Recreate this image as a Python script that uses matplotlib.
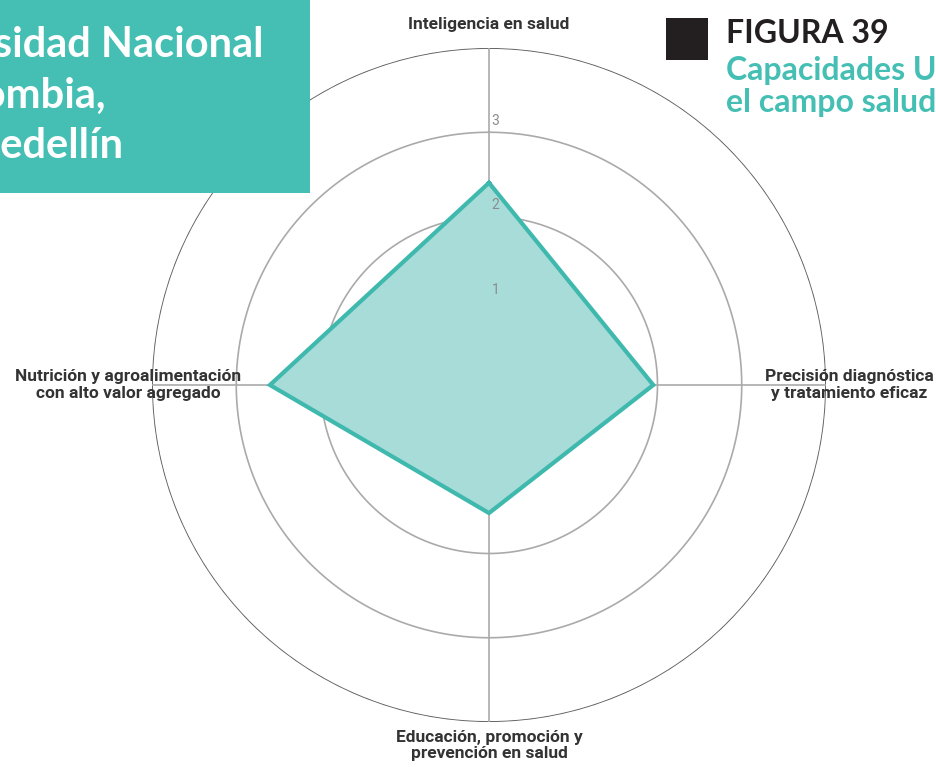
import numpy as np
import matplotlib
matplotlib.use("Agg")
import matplotlib.pyplot as plt
from matplotlib.patches import Rectangle

categorias = ["Inteligencia en salud",
              "Precisión diagnóstica\ny tratamiento eficaz",
              "Educación, promoción y\nprevención en salud",
              "Nutrición y agroalimentación\ncon alto valor agregado"]
valores = [2.4, 1.95, 1.52, 2.6]
anillos = [1, 2, 3, 4]
etiquetas_anillo = ["1", "2", "3"]

teal = "#45bfb4"
relleno = "#a8dcd9"
borde = "#3fb9ad"

W, H = 937, 767
fig = plt.figure(figsize=(W / 100, H / 100), dpi=100)
fig.patch.set_facecolor("white")

# centro (489,385) px, radio exterior 337 px
cx, cy, R = 489, 385, 337
ax = fig.add_axes([(cx - R) / W, (H - cy - R) / H, 2 * R / W, 2 * R / H], projection="polar")
ax.set_theta_zero_location("N")
ax.set_theta_direction(-1)

n = len(categorias)
ang = np.linspace(0, 2 * np.pi, n, endpoint=False)
ang_c = np.append(ang, ang[0])
val_c = np.append(valores, valores[0])

ax.fill(ang_c, val_c, color=relleno, zorder=3)
ax.plot(ang_c, val_c, color=borde, lw=3, zorder=4, solid_joinstyle="miter")

ax.set_ylim(0, 4)
ax.set_yticks([])
ax.set_xticks([])
ax.grid(False)
ax.spines["polar"].set_visible(False)

t = np.linspace(0, 2 * np.pi, 400)
for r in anillos:
    c = "#5e5e5e" if r == 4 else "#aaaaaa"
    ax.plot(t, np.full_like(t, r), color=c, lw=1.3 if r == 4 else 1.2, zorder=2)
for a in ang:
    ax.plot([a, a], [0, 4], color="#aaaaaa", lw=1.2, zorder=2)

for i, s in enumerate(etiquetas_anillo):
    ax.annotate(s, xy=(0, anillos[i]), xytext=(2, 3), textcoords="offset points",
                ha="left", va="bottom", fontsize=10, color="#8c8c8c",
                family="Roboto", zorder=5)

for a, s in zip(ang, categorias):
    ax.text(a, 4.28, s, ha="center", va="center", fontsize=12.5, color="#333333",
            family="Roboto", fontweight="bold", linespacing=1.1, clip_on=False, zorder=6)

# recuadro superior izquierdo
fig.add_artist(Rectangle((0, (H - 193) / H), 310 / W, 193 / H, transform=fig.transFigure,
                         facecolor=teal, edgecolor="none", zorder=10))
for s, xr, yb in [("Universidad Nacional", 264, 57), ("de Colombia,", 106, 108),
                  ("Sede Medellín", 123, 158)]:
    fig.text(xr / W, 1 - yb / H, s, ha="right", va="baseline", fontsize=30,
             color="white", family="Lato", fontweight="bold", zorder=11)

# encabezado derecho
fig.add_artist(Rectangle((666 / W, 1 - 60 / H), 42 / W, 42 / H, transform=fig.transFigure,
                         facecolor="#231f20", edgecolor="none", zorder=10))
fig.text(726 / W, 1 - 43 / H, "FIGURA 39", ha="left", va="baseline", fontsize=23,
         color="#231f20", family="Lato", fontweight="bold", zorder=11)
fig.text(726 / W, 1 - 80 / H, "Capacidades UNAL en", ha="left", va="baseline", fontsize=23,
         color=teal, family="Lato", fontweight="bold", zorder=11)
fig.text(726 / W, 1 - 112 / H, "el campo salud", ha="left", va="baseline", fontsize=23,
         color=teal, family="Lato", fontweight="bold", zorder=11)

fig.savefig("out.png", dpi=100)
